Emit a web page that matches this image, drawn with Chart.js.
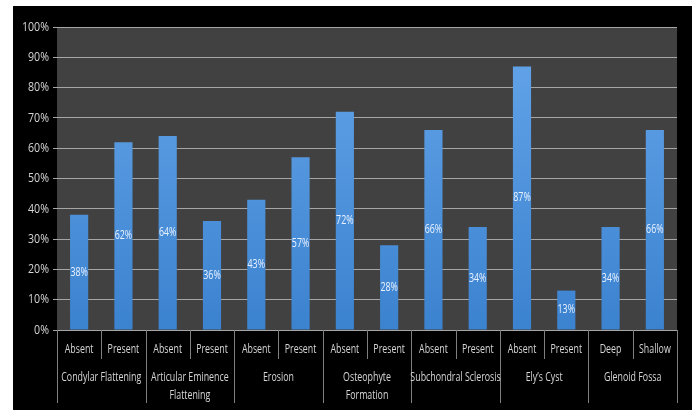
<!DOCTYPE html>
<html>
<head>
<meta charset="utf-8">
<script src="https://cdn.jsdelivr.net/npm/chart.js@4/dist/chart.umd.min.js"></script>
<style>
  html, body { margin: 0; padding: 0; background: #ffffff; }
  #wrap { width: 699px; height: 414px; position: relative; }
</style>
</head>
<body>
<div id="wrap"><canvas id="c" width="699" height="414"></canvas></div>
<script>
// Radiographic findings: share of cases per finding, grouped by feature
const groups = ['Condylar Flattening', 'Articular Eminence|Flattening', 'Erosion', 'Osteophyte|Formation', 'Subchondral Sclerosis', 'Ely\u2019s Cyst', 'Glenoid Fossa'];
const categories = ['Absent', 'Present', 'Absent', 'Present', 'Absent', 'Present', 'Absent', 'Present', 'Absent', 'Present', 'Absent', 'Present', 'Deep', 'Shallow'];
const values = [38, 62, 64, 36, 43, 57, 72, 28, 66, 34, 87, 13, 34, 66];
const yTicks = [0, 10, 20, 30, 40, 50, 60, 70, 80, 90, 100];

const FONT = "'Open Sans', 'Liberation Sans', sans-serif";
const TEXT = '#d6d6d6';

// draws text with narrowed glyphs for a condensed look
function narrowText(ctx, text, x, y, align, squeeze) {
  ctx.save();
  ctx.translate(x, y);
  ctx.scale(squeeze, 1);
  ctx.textAlign = align || 'center';
  ctx.fillText(text, 0, 0);
  ctx.restore();
}

const framePlugin = {
  id: 'frame',
  beforeDraw(chart) {
    const ctx = chart.ctx, a = chart.chartArea;
    ctx.save();
    ctx.fillStyle = '#ffffff';
    ctx.fillRect(0, 0, chart.width, chart.height);
    ctx.fillStyle = '#000000';
    ctx.fillRect(13, 6, 679, 404);
    ctx.fillStyle = '#414141';
    ctx.fillRect(a.left, a.top, a.right - a.left, a.bottom - a.top);
    ctx.restore();
  },
  afterDraw(chart) {
    const ctx = chart.ctx, x = chart.scales.x, y = chart.scales.y, a = chart.chartArea;
    const n = categories.length;
    const step = (x.getPixelForValue(1) - x.getPixelForValue(0));
    ctx.save();
    ctx.fillStyle = TEXT;
    ctx.textBaseline = 'middle';
    // y tick labels
    ctx.font = '13px ' + FONT;
    y.ticks.forEach(t => narrowText(ctx, t.value + '%', a.left - 8, y.getPixelForValue(t.value), 'right', 0.82));
    // category labels
    categories.forEach((c, i) => narrowText(ctx, c, x.getPixelForValue(i), a.bottom + 19, 'center', 0.68));
    // dividers
    ctx.strokeStyle = '#7f7f7f';
    ctx.lineWidth = 1;
    for (let i = 0; i <= n; i++) {
      const px = Math.round(x.getPixelForValue(i) - step / 2) + 0.5;
      const long = i % 2 === 0;
      ctx.beginPath();
      ctx.moveTo(px, a.bottom);
      ctx.lineTo(px, a.bottom + (long ? 73 : 29));
      ctx.stroke();
    }
    // group labels
    groups.forEach((g, gi) => {
      const cx = (x.getPixelForValue(gi * 2) + x.getPixelForValue(gi * 2 + 1)) / 2;
      g.split('|').forEach((line, li) => narrowText(ctx, line, cx, a.bottom + 47 + li * 18, 'center', 0.68));
    });
    ctx.restore();
  },
  afterDatasetsDraw(chart) {
    const ctx = chart.ctx;
    const meta = chart.getDatasetMeta(0);
    ctx.save();
    ctx.fillStyle = '#e9f1ff';
    ctx.font = '12px ' + FONT;
    ctx.textBaseline = 'middle';
    meta.data.forEach((bar, i) => {
      narrowText(ctx, values[i] + '%', bar.x, (bar.y + bar.base) / 2, 'center', 0.74);
    });
    ctx.restore();
  }
};

new Chart(document.getElementById('c'), {
  type: 'bar',
  data: {
    labels: categories,
    datasets: [{
      data: values,
      backgroundColor(context) {
        const a = context.chart.chartArea;
        if (!a) return '#4a8fd8';
        const g = context.chart.ctx.createLinearGradient(0, a.top, 0, a.bottom);
        g.addColorStop(0, '#66a6ea');
        g.addColorStop(1, '#3b82cf');
        return g;
      },
      borderWidth: 0,
      barPercentage: 0.82,
      categoryPercentage: 0.5
    }]
  },
  options: {
    responsive: false,
    animation: false,
    layout: { padding: { left: 0, right: 22, top: 27, bottom: 0 } },
    plugins: { legend: { display: false }, tooltip: { enabled: false } },
    scales: {
      x: {
        grid: { display: false },
        border: { display: false },
        ticks: { display: false },
        afterFit(s) { s.height = 84; }
      },
      y: {
        min: 0, max: 100,
        afterBuildTicks(s) { s.ticks = yTicks.map(v => ({ value: v })); },
        afterFit(s) { s.width = 57; },
        grid: { color: '#a6a6a6', lineWidth: 1, tickLength: 4, drawTicks: true },
        border: { display: false },
        ticks: { display: false }
      }
    }
  },
  plugins: [framePlugin]
});
</script>
</body>
</html>
